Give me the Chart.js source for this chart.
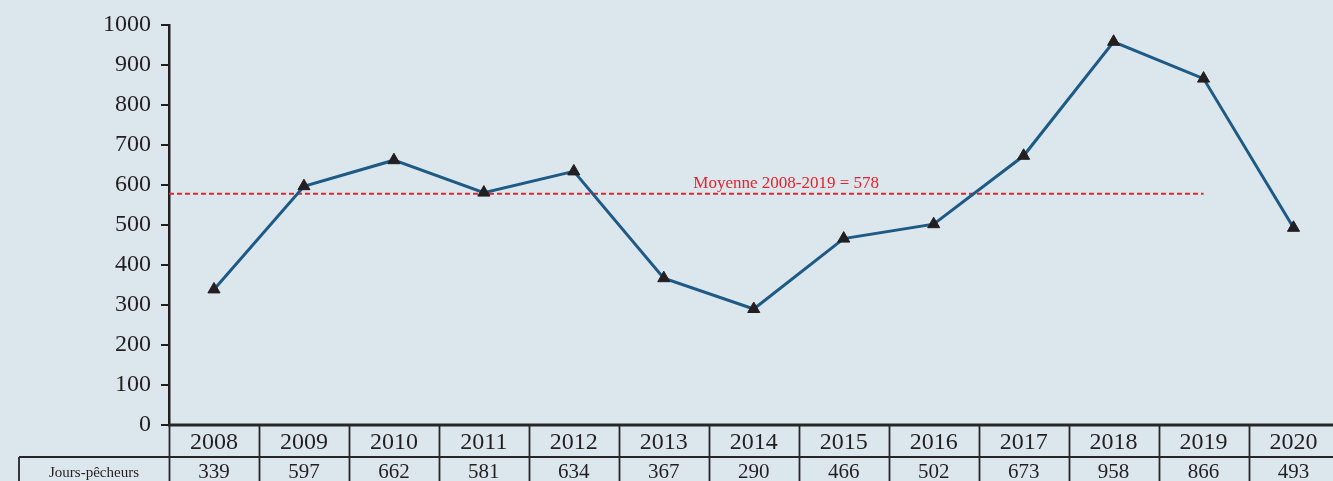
<!DOCTYPE html>
<html lang="fr">
<head>
<meta charset="utf-8">
<title>Jours-pêcheurs 2008-2020</title>
<script src="https://cdn.jsdelivr.net/npm/chart.js@4/dist/chart.umd.min.js"></script>
<style>
  html, body { margin:0; padding:0; background:#dce6ed; overflow:hidden; }
  #chart { display:block; }
</style>
</head>
<body>
<canvas id="chart" width="1333" height="481"></canvas>
<script>
// ===== Data =====
const YEARS = ['2008','2009','2010','2011','2012','2013','2014','2015','2016','2017','2018','2019','2020'];
const JOURS_PECHEURS = [339,597,662,581,634,367,290,466,502,673,958,866,493];
const ROW_LABEL = 'Jours-pêcheurs';
const MOYENNE = 578;
const MOYENNE_LABEL = 'Moyenne 2008-2019 = 578';
const MOYENNE_LAST_YEAR = '2019';
const Y_MIN = 0, Y_MAX = 1000, Y_STEP = 100;
// year index range shown; the last column is cut by the right edge, as in the source figure
const X_MIN = -0.5, X_MAX = 12.35;

// ===== Styles =====
const INK = '#231f20';
const LINE_BLUE = '#1d5a85';
const RED = '#e8222b';
const SERIF = '"Liberation Serif", "DejaVu Serif", serif';

// average line + label, under the data line
const averagePlugin = {
  id: 'average',
  beforeDatasetsDraw(chart) {
    const { ctx, chartArea, scales: { x, y } } = chart;
    const yy = y.getPixelForValue(MOYENNE);
    const xEnd = x.getPixelForValue(YEARS.indexOf(MOYENNE_LAST_YEAR));
    ctx.save();
    ctx.strokeStyle = RED; ctx.lineWidth = 2; ctx.setLineDash([5, 3]);
    ctx.beginPath(); ctx.moveTo(chartArea.left, yy); ctx.lineTo(xEnd, yy); ctx.stroke();
    ctx.setLineDash([]);
    ctx.fillStyle = RED; ctx.font = '17px ' + SERIF;
    ctx.textAlign = 'center'; ctx.textBaseline = 'alphabetic';
    ctx.fillText(MOYENNE_LABEL, x.getPixelForValue(6.36), yy - 6);
    ctx.restore();
  }
};

// data table under the x axis
const tablePlugin = {
  id: 'table',
  afterDraw(chart) {
    const { ctx, chartArea, scales: { x } } = chart;
    const W = chart.width, H = chart.height;
    const half = (x.getPixelForValue(1) - x.getPixelForValue(0)) / 2;
    const top = chartArea.bottom, mid = top + 32, labelLeft = 19;
    ctx.save();
    ctx.strokeStyle = '#262626';
    // rows
    ctx.lineWidth = 3;
    ctx.beginPath(); ctx.moveTo(chartArea.left - 1, top); ctx.lineTo(W, top); ctx.stroke();
    ctx.lineWidth = 2;
    ctx.beginPath(); ctx.moveTo(labelLeft, mid); ctx.lineTo(W, mid); ctx.stroke();
    // columns
    ctx.lineWidth = 1.8;
    ctx.beginPath();
    YEARS.forEach((_, i) => {
      const bx = Math.round(x.getPixelForValue(i) - half) + 0.5;
      ctx.moveTo(bx, top); ctx.lineTo(bx, H);
    });
    ctx.moveTo(labelLeft, mid); ctx.lineTo(labelLeft, H);
    ctx.stroke();
    // texts
    ctx.fillStyle = INK; ctx.textAlign = 'center';
    ctx.textBaseline = 'alphabetic';
    ctx.font = '24px ' + SERIF;
    YEARS.forEach((yr, i) => ctx.fillText(yr, x.getPixelForValue(i), top + 24));
    ctx.font = '21px ' + SERIF;
    JOURS_PECHEURS.forEach((v, i) => ctx.fillText(String(v), x.getPixelForValue(i), H - 3));
    ctx.font = '15px ' + SERIF;
    ctx.fillText(ROW_LABEL, (labelLeft + chartArea.left) / 2, H - 4);
    ctx.restore();
  }
};

new Chart(document.getElementById('chart'), {
  type: 'line',
  data: {
    datasets: [{
      label: ROW_LABEL,
      data: JOURS_PECHEURS.map((v, i) => ({ x: i, y: v })),
      borderColor: LINE_BLUE,
      borderWidth: 3,
      tension: 0,
      pointStyle: 'triangle',
      pointRadius: 7,
      pointBackgroundColor: INK,
      pointBorderColor: INK,
      pointBorderWidth: 1
    }]
  },
  options: {
    responsive: false,
    animation: false,
    devicePixelRatio: 1,
    layout: { padding: { top: 25, bottom: 56, left: 0, right: 0 } },
    plugins: { legend: { display: false }, tooltip: { enabled: false } },
    scales: {
      x: { type: 'linear', min: X_MIN, max: X_MAX, display: false },
      y: {
        min: Y_MIN, max: Y_MAX,
        ticks: { stepSize: Y_STEP, color: INK, padding: 10, font: { family: SERIF, size: 24 },
                 callback: v => String(v) },
        grid: { drawOnChartArea: false, tickLength: 8, color: INK, lineWidth: 2 },
        border: { color: INK, width: 2.5 },
        afterFit(s) { s.width = 169; }
      }
    }
  },
  plugins: [averagePlugin, tablePlugin]
});
</script>
</body>
</html>
